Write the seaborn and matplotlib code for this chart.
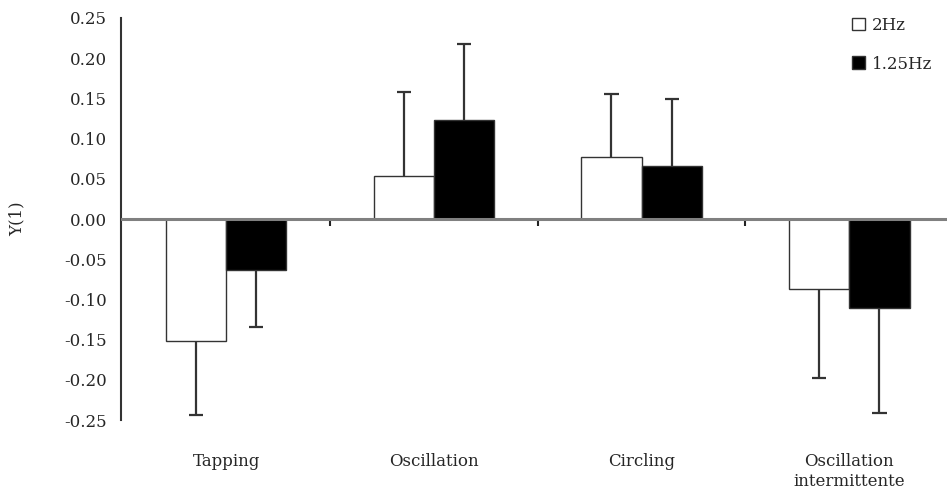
import matplotlib
matplotlib.use("Agg")
import matplotlib.pyplot as plt
from matplotlib.patches import Patch
import seaborn as sns
import pandas as pd

categories = ["Tapping", "Oscillation", "Circling", "Oscillation\nintermittente"]
series = ["2Hz", "1.25Hz"]
mean_2hz = [-0.152, 0.053, 0.077, -0.087]
mean_125hz = [-0.063, 0.123, 0.066, -0.110]
sd_2hz = [0.091, 0.105, 0.079, 0.111]
sd_125hz = [0.071, 0.095, 0.083, 0.131]
y_ticks = [0.25, 0.20, 0.15, 0.10, 0.05, 0.00, -0.05, -0.10, -0.15, -0.20, -0.25]

df = pd.DataFrame({
    "cond": categories * 2,
    "freq": [series[0]] * 4 + [series[1]] * 4,
    "y": mean_2hz + mean_125hz,
    "sd": sd_2hz + sd_125hz,
})

sns.set_style("white")
plt.rcParams["font.family"] = ["DejaVu Serif"]

fig = plt.figure(figsize=(9.47, 4.99), dpi=100)
ax = fig.add_axes([0.128, 0.158, 0.872, 0.806])

sns.barplot(data=df, x="cond", y="y", hue="freq", order=categories,
            hue_order=series, palette=["white", "black"], width=0.58,
            edgecolor="#333333", linewidth=1, errorbar=None, legend=False,
            ax=ax, zorder=3)

# one-sided error bars, pointing away from zero, cap only at the far end
sds = sd_2hz + sd_125hz
cap = 0.034
for patch, sd in zip(ax.patches[:8], sds):
    xc = patch.get_x() + patch.get_width() / 2
    h = patch.get_height()
    end = h + sd if h >= 0 else h - sd
    ax.vlines(xc, h, end, color="#333333", lw=1.6, zorder=2)
    ax.hlines(end, xc - cap, xc + cap, color="#333333", lw=1.6, zorder=2)

ax.axhline(0, color="#808080", lw=2.2, zorder=4)

ax.set_ylim(-0.25, 0.25)
ax.set_xlim(-0.505, 3.47)
ax.set_yticks(y_ticks)
ax.set_yticklabels([f"{t:.2f}" for t in y_ticks], fontsize=12)
ax.set_ylabel("Y(1)", fontsize=12, labelpad=28)
ax.tick_params(axis="y", direction="out", length=6, width=1.2, color="#333333", pad=4)
ax.tick_params(axis="x", length=0, pad=24, labelsize=12)
ax.set_xlabel("")

for s in ["top", "right", "bottom"]:
    ax.spines[s].set_visible(False)
ax.spines["left"].set_color("#333333")
ax.spines["left"].set_linewidth(1.5)

# small ticks between categories, hanging below the zero line
sec = ax.secondary_xaxis(0.5)
sec.set_xticks([0.5, 1.5, 2.5])
sec.set_xticklabels([])
sec.tick_params(length=5, width=1.5, color="#222222", direction="in")
for s in sec.spines.values():
    s.set_visible(False)

handles = [Patch(facecolor="white", edgecolor="#333333", label=series[0]),
           Patch(facecolor="black", edgecolor="#333333", label=series[1])]
ax.legend(handles=handles, loc="upper right", bbox_to_anchor=(1.0, 1.04),
          frameon=False, fontsize=12, handlelength=0.8, handleheight=0.8,
          handletextpad=0.4, labelspacing=1.3)

fig.savefig("out.png", dpi=100)
